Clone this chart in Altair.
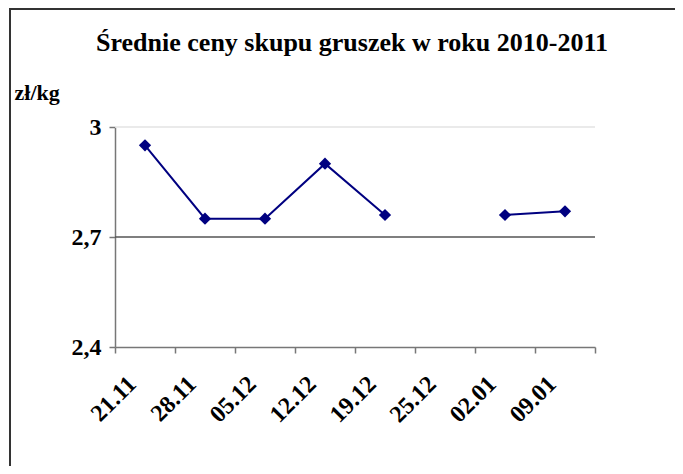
import altair as alt
import pandas as pd

title_text = "Średnie ceny skupu gruszek w roku 2010-2011"
unit_label = "zł/kg"
weeks = ["21.11", "28.11", "05.12", "12.12", "19.12", "25.12", "02.01", "09.01"]
prices = [2.95, 2.75, 2.75, 2.90, 2.76, None, 2.76, 2.77]
y_ticks = [2.4, 2.7, 3.0]
grid_values = [3.0, 2.7]

df = pd.DataFrame({"week": weeks, "price": prices})
grid_df = pd.DataFrame({"price": grid_values})
one = pd.DataFrame({"a": [0]})

FONT = "Times New Roman"

x_enc = alt.X(
    "week:N",
    sort=weeks,
    bandPosition=0.5,
    scale=alt.Scale(type="band", domain=weeks, paddingInner=0, paddingOuter=0),
    axis=alt.Axis(
        title=None,
        labelAngle=-45,
        labelAlign="right",
        labelBaseline="middle",
        labelFont=FONT,
        labelFontSize=24,
        labelFontWeight="bold",
        labelColor="black",
        labelPadding=27,
        labelOffset=-13,
        labelOverlap=False,
        tickSize=6,
        tickColor="#777777",
        tickWidth=1.5,
        domainColor="#777777",
        domainWidth=1.5,
        tickBand="extent",
        grid=False,
    ),
)

y_axis = alt.Axis(
    values=y_ticks,
    labelExpr="replace(format(datum.value, '.1~f'), '.', ',')",
    labelFont=FONT,
    labelFontSize=24,
    labelFontWeight="bold",
    labelColor="black",
    labelPadding=8,
    tickSize=6,
    tickColor="#777777",
    tickWidth=1.5,
    domainColor="#777777",
    domainWidth=1.5,
    grid=False,
    title=unit_label,
    titleAngle=0,
    titleAlign="left",
    titleBaseline="alphabetic",
    titleX=-101,
    titleY=-28,
    titleFont=FONT,
    titleFontSize=22,
    titleFontWeight="bold",
    titleColor="black",
)
y_scale = alt.Scale(domain=[2.4, 3.0], nice=False, zero=False)

grid = alt.Chart(grid_df).mark_rule(strokeWidth=1.5).encode(
    y=alt.Y("price:Q", scale=y_scale, axis=y_axis),
    color=alt.condition(alt.datum.price == 2.7, alt.value("#555555"), alt.value("#e3e3e3")),
)

line = alt.Chart(df).mark_line(
    color="#000080",
    strokeWidth=2,
    invalid="break-paths-filter-domains",
    point=alt.OverlayMarkDef(shape="diamond", size=150, filled=True, color="#000080", opacity=1),
).encode(
    x=x_enc,
    y=alt.Y("price:Q", scale=y_scale, axis=y_axis),
)

frame_top = alt.Chart(one).mark_rule(color="#333333", strokeWidth=2).encode(
    x=alt.value(-106), x2=alt.value(560), y=alt.value(-118)
)
frame_left = alt.Chart(one).mark_rule(color="#333333", strokeWidth=2).encode(
    x=alt.value(-105), y=alt.value(-119), y2=alt.value(339)
)

title = alt.Chart(one).mark_text(
    text=title_text,
    font=FONT,
    fontSize=26,
    fontWeight="bold",
    color="black",
    align="center",
    baseline="alphabetic",
).encode(x=alt.value(237), y=alt.value(-76))

chart = alt.layer(frame_top, frame_left, grid, line, title).properties(
    width=480,
    height=220,
    padding={"left": 107, "top": 119, "right": 80, "bottom": 119},
    autosize=alt.AutoSizeParams(type="none"),
    background="white",
).configure_view(strokeWidth=0)

chart.save("out.html", embed_options={"renderer": "svg", "actions": False})
